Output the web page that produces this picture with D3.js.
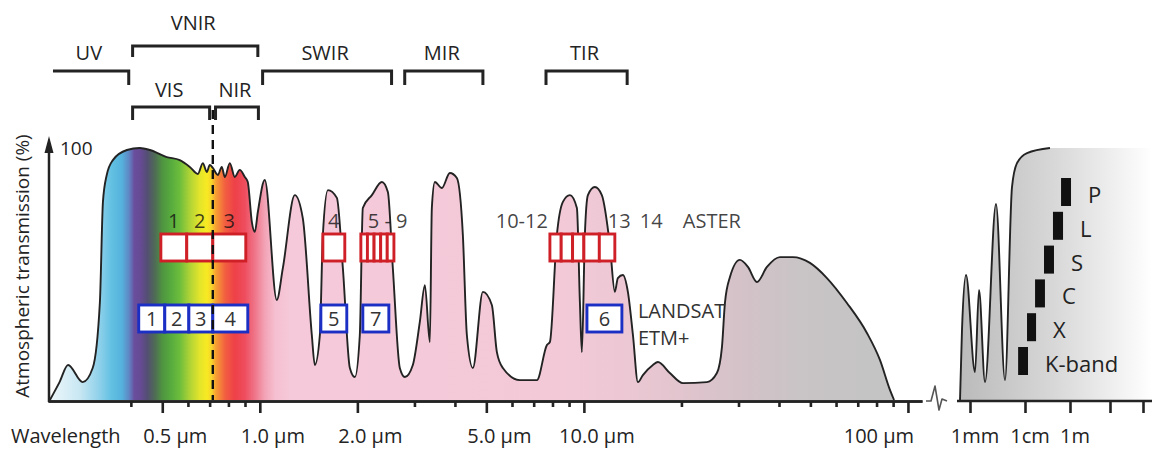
<!DOCTYPE html>
<html>
<head>
<meta charset="utf-8">
<script src="https://cdn.jsdelivr.net/npm/d3@7"></script>
<style>
  html, body { margin: 0; padding: 0; background: #fff; }
  svg { display: block; font-family: "Open Sans", "DejaVu Sans", sans-serif; }
</style>
</head>
<body>
<svg id="chart" width="1152" height="450"></svg>
<script>
// ---- Atmospheric transmission, optical / infrared part (wavelength in µm, transmission in %) ----
const wavelength = [0.225,0.241,0.256,0.284,0.305,0.321,0.328,0.337,0.352,0.389,0.426,0.458,0.516,0.566,0.608,0.644,0.667,0.686,0.701,0.716,
  0.742,0.763,0.780,0.808,0.837,0.867,0.899,0.918,0.945,0.965,0.986,1.036,1.128,1.178,1.282,1.357,1.447,1.478,1.532,1.565,
  1.622,1.729,1.804,1.896,1.965,2.035,2.079,2.217,2.380,2.484,2.573,2.704,2.803,2.966,3.117,3.231,3.347,3.395,3.468,3.645,
  3.858,4.055,4.232,4.354,4.544,4.879,5.200,5.389,5.623,6.346,7.161,7.690,7.855,8.254,8.614,9.053,9.515,9.720,9.859,10.07,
  10.29,10.81,11.36,12.03,12.46,12.73,13.19,13.67,14.17,14.68,15.21,16.33,16.92,18.42,20.21,23.97,25.73,26.67,27.24,28.23,
  30.30,32.08,34.20,36.72,40.27,44.17,49.84,56.23,64.81,74.71,81.95,87.99,90.6];
const transmission = [0,7.1,13.9,7.1,12.7,38.9,78.6,89.3,95.2,99.2,100,99.2,96.4,95.2,92.5,89.7,94.0,90.5,93.3,92.1,
  89.3,92.5,88.5,94.0,88.5,91.3,88.5,86.5,70.6,66.7,74.6,87.3,39.7,52.4,81.3,72.2,25.8,13.9,25.8,65.5,
  83.3,80.2,52.4,12.7,9.1,25.8,76.2,81.3,86.5,82.5,52.4,12.7,9.1,13.9,31.0,45.6,23.0,76.2,86.5,84.1,
  90.1,88.1,65.5,25.8,12.7,42.9,37.7,19.0,12.7,7.9,7.9,21.8,23.0,65.5,78.6,81.3,76.2,38.9,19.0,65.5,
  81.3,84.5,81.3,61.5,42.9,48.4,49.6,42.9,25.8,7.1,9.9,13.9,15.1,10.7,6.7,7.1,10.7,21.0,38.5,48.8,
  55.6,52.8,46.8,52.8,56.7,56.7,54.4,48.4,38.5,26.6,15.9,4.0,0];

// ---- Microwave part (wavelength in mm) ----
const mwWavelength = [0.658,0.715,0.846,1.233,1.458,1.874,2.97,4.33,5.80,7.15,12.3,129];
const mwTransmission = [0,27.8,49.6,11.1,43.7,7.1,77.8,7.9,84.5,94.0,98.0,100];

// ---- Spectral regions (µm) ----
const regions = ["UV","VNIR","VIS","NIR","SWIR","MIR","TIR"];
const regionStart = [0.23,0.405,0.405,0.73,1.02,2.8,7.64];
const regionEnd   = [0.394,0.986,0.70,0.99,2.55,4.88,13.6];
const visNirBoundary = 0.716;

// ---- Sensor bands (µm) ----
const asterBands = ["1","2","3","4","5","6","7","8","9","10","11","12","13","14"];
const asterStart = [0.495,0.595,0.716,1.565,2.050,2.148,2.252,2.360,2.473,7.855,8.511,9.228,10.0,11.16];
const asterEnd   = [0.595,0.716,0.905,1.829,2.148,2.252,2.360,2.473,2.593,8.511,9.228,10.0,11.16,12.46];

const landsatBands = ["1","2","3","4","5","7","6"];
const landsatStart = [0.423,0.509,0.604,0.716,1.543,2.079,10.22];
const landsatEnd   = [0.509,0.604,0.716,0.918,1.855,2.501,13.10];

// ---- Radar bands (mm) ----
const radarBands = ["K-band","X","C","S","L","P"];
const radarStart = [7.5,12.3,28,70,175,400];
const radarEnd   = [13.6,31,77,194,490,1060];

// ---- Axis ticks ----
const majorTicks = [0.5,1,2,5,10,100];
const majorTickLabels = ["0.5 µm","1.0 µm","2.0 µm","5.0 µm","10.0 µm","100 µm"];
const minorTicks = [0.4,0.6,0.7,0.8,0.9,3,4,6,7,8,9,20,30,40,50,60,70,80,90];
const mwTicks = [1,10,1000,10000,100000];            // mm
const mwTickLabels = ["1mm","1cm","1m","",""];

// ================= drawing =================
const W = 1152, H = 450;
const svg = d3.select("#chart");
const ink = "#232323";

const x = d3.scaleLog().domain([0.222, 110.5]).range([48, 922]);
const y = d3.scaleLinear().domain([0, 100]).range([400, 148]);
// microwave axis: uneven, log10(mm) -> px
const xm = d3.scaleLinear().domain([0, 1, 3, 4, 5]).range([970, 1025, 1070, 1110, 1143]);
const lg = Math.log10;

const defs = svg.append("defs");
const [gx0, gx1] = x.range();
const spectrumStops = [
  [0.225,"#eef7fb"],[0.278,"#c8e7f3"],[0.321,"#8dd0ea"],[0.349,"#62c0e2"],[0.375,"#55b2dc"],
  [0.395,"#5f86c4"],[0.41,"#6a4e9e"],[0.43,"#654a92"],[0.45,"#534f72"],[0.475,"#4f6c55"],
  [0.50,"#4f9440"],[0.53,"#56aa3e"],[0.566,"#6cbd3c"],[0.608,"#afd336"],[0.653,"#e3e52b"],
  [0.686,"#f7ea22"],[0.710,"#f8d42a"],[0.73,"#f7a232"],[0.78,"#f26040"],[0.837,"#ee4048"],
  [0.899,"#ee4d5e"],[0.965,"#ef7589"],[1.036,"#f3a3b6"],[1.112,"#f5bfd0"],[1.238,"#f5c9d9"],
  [8.43,"#f3c9d8"],[12.9,"#edc8d4"],[19.8,"#e2c5ce"],[30.3,"#d4c2c8"],[46.4,"#c9c4c6"],[81.95,"#c4c4c4"]
];
const spec = defs.append("linearGradient").attr("id","spectrum")
  .attr("gradientUnits","userSpaceOnUse").attr("x1",gx0).attr("x2",gx1).attr("y1",0).attr("y2",0);
spectrumStops.forEach(([w,c]) => spec.append("stop").attr("offset",(x(w)-gx0)/(gx1-gx0)).attr("stop-color",c));

const mwGrad = defs.append("linearGradient").attr("id","mwfill")
  .attr("gradientUnits","userSpaceOnUse").attr("x1",958).attr("x2",W).attr("y1",0).attr("y2",0);
[[0,"#bababa"],[0.22,"#c7c7c7"],[0.5,"#d8d8d8"],[0.75,"#ebebeb"],[1,"#ffffff"]]
  .forEach(([o,c]) => mwGrad.append("stop").attr("offset",o).attr("stop-color",c));

// ---- transmission curve, optical/IR ----
const pts = d3.zip(wavelength, transmission);
const area = d3.area().x(d => x(d[0])).y0(y(0)).y1(d => y(d[1])).curve(d3.curveMonotoneX);
const line = d3.line().x(d => x(d[0])).y(d => y(d[1])).curve(d3.curveMonotoneX);
svg.append("path").datum(pts).attr("d", area).attr("fill", "url(#spectrum)");
svg.append("path").datum(pts).attr("d", line).attr("fill","none")
  .attr("stroke", ink).attr("stroke-width", 1.9).attr("stroke-linejoin","round");

// ---- transmission curve, microwave ----
const mwPts = d3.zip(mwWavelength.map(lg), mwTransmission);
const mwArea = d3.area().x(d => xm(d[0])).y0(y(0)).y1(d => y(d[1])).curve(d3.curveMonotoneX);
const mwLine = d3.line().x(d => xm(d[0])).y(d => y(d[1])).curve(d3.curveMonotoneX);
svg.append("path").datum(mwPts.concat([[xm.invert(W), mwTransmission[mwTransmission.length-1]]]))
  .attr("d", mwArea).attr("fill", "url(#mwfill)");
svg.append("path").datum(mwPts).attr("d", mwLine).attr("fill","none")
  .attr("stroke", ink).attr("stroke-width", 1.9).attr("stroke-linejoin","round");

// ---- x axis, optical/IR ----
const axisY = 401;
const gMajor = svg.append("g").attr("transform",`translate(0,${axisY})`)
  .call(d3.axisBottom(x).tickValues(majorTicks).tickSize(12).tickSizeOuter(0).tickFormat(""));
const gMinor = svg.append("g").attr("transform",`translate(0,${axisY})`)
  .call(d3.axisBottom(x).tickValues(minorTicks).tickSize(6).tickSizeOuter(0).tickFormat(""));
[gMajor, gMinor].forEach(g => {
  g.selectAll(".tick line").attr("stroke", ink).attr("stroke-width", 2.6);
  g.select(".domain").attr("stroke", ink).attr("stroke-width", 2.7);
});

const labelNudge = { "100 µm": -29 };
svg.append("g").selectAll("text").data(d3.zip(majorTicks, majorTickLabels)).join("text")
  .attr("x", d => x(d[0]) + (labelNudge[d[1]] ?? 13))
  .attr("y", 443).attr("text-anchor","middle")
  .attr("font-size", 20).attr("fill", ink).text(d => d[1]);
svg.append("text").attr("x", 11).attr("y", 443).attr("font-size", 20).attr("fill", ink).text("Wavelength");

// axis break
svg.append("path").attr("d","M926,401 L931,401 L935,386 L939,410 L942,399 L947,401")
  .attr("fill","none").attr("stroke","#555").attr("stroke-width",1.6).attr("stroke-linejoin","round");

// ---- x axis, microwave ----
const gMw = svg.append("g").attr("transform",`translate(0,${axisY})`)
  .call(d3.axisBottom(xm).tickValues(mwTicks.map(lg)).tickSize(12).tickSizeOuter(0).tickFormat(""));
gMw.select(".domain").remove();
gMw.selectAll(".tick line").attr("stroke", ink).attr("stroke-width", 2.6);
svg.append("line").attr("x1", 957).attr("x2", W).attr("y1", axisY).attr("y2", axisY)
  .attr("stroke", ink).attr("stroke-width", 2.7);
svg.append("g").selectAll("text").data(d3.zip(mwTicks, mwTickLabels).filter(d => d[1])).join("text")
  .attr("x", d => xm(lg(d[0])) + 5).attr("y", 443).attr("text-anchor","middle")
  .attr("font-size", 20).attr("fill", ink).text(d => d[1]);

// ---- y axis ----
svg.append("line").attr("x1", 49).attr("x2", 49).attr("y1", 402).attr("y2", 150)
  .attr("stroke", ink).attr("stroke-width", 2.5);
svg.append("path").attr("d","M49,136 L53.5,153 L44.5,153 Z").attr("fill", ink);
svg.append("text").attr("x", 60).attr("y", 155).attr("font-size", 19).attr("fill", ink).text("100");
svg.append("text").attr("transform","translate(29,266) rotate(-90)").attr("text-anchor","middle")
  .attr("font-size", 19).attr("fill", ink).text("Atmospheric transmission (%)");

// ---- spectral region brackets ----
const regionRow = { VNIR: {y:46, t:11, ly:30}, UV:{y:71,t:14,ly:60}, SWIR:{y:71,t:14,ly:60},
  MIR:{y:71,t:14,ly:60}, TIR:{y:71,t:14,ly:60}, VIS:{y:107,t:13,ly:97}, NIR:{y:107,t:13,ly:97} };
const brackets = svg.append("g");
regions.forEach((name, i) => {
  const r = regionRow[name];
  const x1 = x(regionStart[i]), x2 = x(regionEnd[i]);
  const d = name === "UV"
    ? `M${x1},${r.y} H${x2} V${r.y + r.t}`
    : `M${x1},${r.y + r.t} V${r.y} H${x2} V${r.y + r.t}`;
  brackets.append("path").attr("d", d).attr("fill","none").attr("stroke", ink).attr("stroke-width", 3);
  brackets.append("text").attr("x", (x1 + x2) / 2 - 2).attr("y", r.ly).attr("text-anchor","middle")
    .attr("font-size", 20).attr("fill", ink).text(name);
});

// ---- ASTER bands ----
const asterY = 234, boxH = 27;
const red = "#cf2027", blue = "#1b2fc4";
svg.append("g").selectAll("rect").data(asterBands).join("rect")
  .attr("x", (d, i) => x(asterStart[i])).attr("width", (d, i) => x(asterEnd[i]) - x(asterStart[i]))
  .attr("y", asterY).attr("height", boxH)
  .attr("fill", "#fff").attr("stroke", red).attr("stroke-width", 2.9);

const bandIdx = b => asterBands.indexOf(b);
const mid = b => (x(asterStart[bandIdx(b)]) + x(asterEnd[bandIdx(b)])) / 2;
const asterLabels = [
  { text: "1", x: mid("1"), anchor: "middle" },
  { text: "2", x: mid("2"), anchor: "middle" },
  { text: "3", x: mid("3"), anchor: "middle" },
  { text: "4", x: mid("4"), anchor: "middle" },
  { text: "5 - 9", x: x(asterStart[bandIdx("5")]) + 7, anchor: "start" },
  { text: "10-12", x: x(asterStart[bandIdx("10")]) - 2, anchor: "end" },
  { text: "13", x: x(asterEnd[bandIdx("14")]) - 7, anchor: "start" },
  { text: "14", x: x(asterEnd[bandIdx("14")]) + 25, anchor: "start" },
  { text: "ASTER", x: x(asterEnd[bandIdx("14")]) + 68, anchor: "start" }
];
svg.append("g").selectAll("text").data(asterLabels).join("text")
  .attr("x", d => d.x).attr("y", 228).attr("text-anchor", d => d.anchor)
  .attr("font-size", 20).attr("fill", "#111").attr("fill-opacity", 0.8).text(d => d.text);

// ---- Landsat ETM+ bands ----
const landsatY = 305;
const lg2 = svg.append("g");
lg2.selectAll("rect").data(landsatBands).join("rect")
  .attr("x", (d, i) => x(landsatStart[i])).attr("width", (d, i) => x(landsatEnd[i]) - x(landsatStart[i]))
  .attr("y", landsatY).attr("height", boxH)
  .attr("fill", "#fff").attr("stroke", blue).attr("stroke-width", 2.9);
lg2.selectAll("text").data(landsatBands).join("text")
  .attr("x", (d, i) => (x(landsatStart[i]) + x(landsatEnd[i])) / 2).attr("y", landsatY + 20.5)
  .attr("text-anchor","middle").attr("font-size", 20).attr("fill", "#333").text(d => d);
const lsEnd = x(landsatEnd[landsatBands.indexOf("6")]);
svg.append("text").attr("x", lsEnd + 16).attr("y", 318).attr("font-size", 20).attr("fill", "#333").text("LANDSAT");
svg.append("text").attr("x", lsEnd + 16).attr("y", 345).attr("font-size", 20).attr("fill", "#333").text("ETM+");

// ---- VIS / NIR boundary ----
svg.append("line").attr("x1", x(visNirBoundary)).attr("x2", x(visNirBoundary))
  .attr("y1", 110).attr("y2", 400)
  .attr("stroke", "#111").attr("stroke-width", 2.4).attr("stroke-dasharray", "9,6");

// ---- radar bands ----
const yr = d3.scalePoint().domain(radarBands).range([361, 192]);
const rg = svg.append("g");
rg.selectAll("rect").data(radarBands).join("rect")
  .attr("x", (d, i) => xm(lg(radarStart[i]))).attr("width", (d, i) => xm(lg(radarEnd[i])) - xm(lg(radarStart[i])))
  .attr("y", d => yr(d) - 14).attr("height", 28).attr("fill", "#111");
rg.selectAll("text").data(radarBands).join("text")
  .attr("x", (d, i) => xm(lg(radarEnd[i])) + 17).attr("y", d => yr(d) + 11)
  .attr("font-size", 22).attr("fill", "#222").text(d => d);
</script>
</body>
</html>
